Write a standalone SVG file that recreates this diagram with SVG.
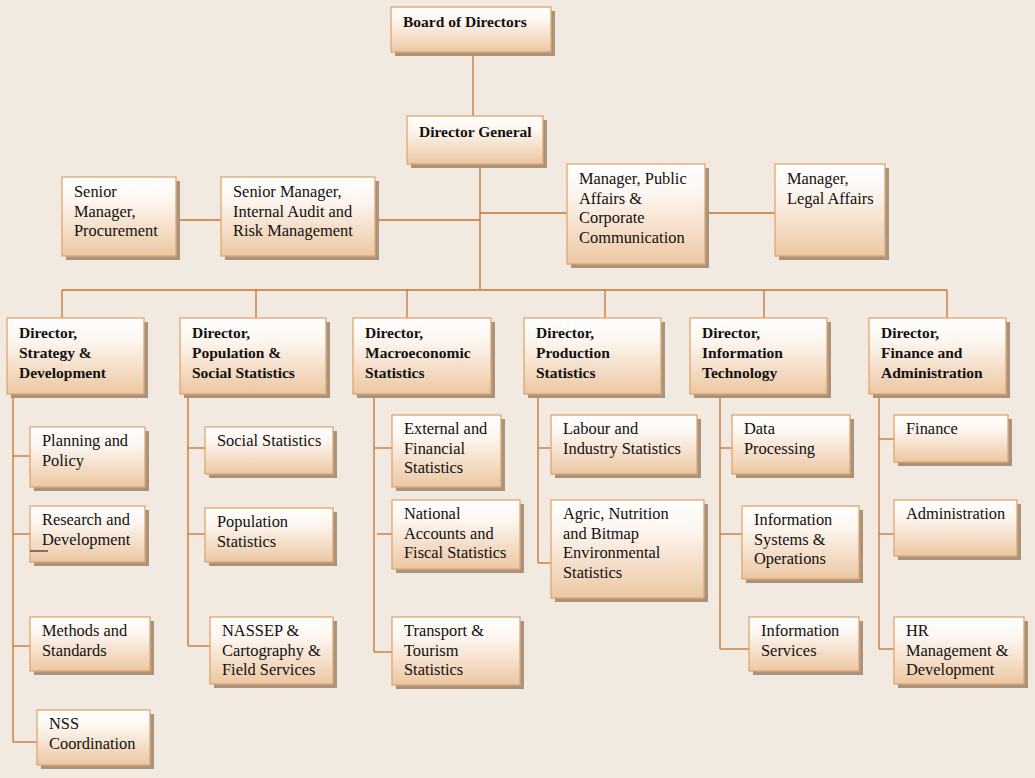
<svg xmlns="http://www.w3.org/2000/svg" width="1035" height="778" viewBox="0 0 1035 778">
<defs>
<linearGradient id="g" x1="0" y1="0" x2="0" y2="1">
<stop offset="0" stop-color="#FFFFFF"/>
<stop offset="0.3" stop-color="#FDF6F0"/>
<stop offset="1" stop-color="#ECC7A2"/>
</linearGradient>
</defs>
<style>
.bg{fill:#F2E9E1}
.sh{fill:#A8937F}
.bx{fill:url(#g);stroke:#E0A66E;stroke-width:1.3}
text{font-family:"Liberation Serif","DejaVu Serif",serif;font-size:16.4px;fill:#111}
.b{font-weight:bold;font-size:15.5px}
#connectors line{stroke:#C27532;stroke-width:1.3}
</style>
<rect class="bg" x="0" y="0" width="1035" height="778"/>
<g id="connectors">
<line x1="473" y1="52" x2="473" y2="116"/>
<line x1="480" y1="164" x2="480" y2="290"/>
<line x1="176" y1="220" x2="221" y2="220"/>
<line x1="375" y1="220" x2="480" y2="220"/>
<line x1="480" y1="213" x2="567" y2="213"/>
<line x1="705" y1="213" x2="775" y2="213"/>
<line x1="62" y1="290" x2="947" y2="290"/>
<line x1="62" y1="290" x2="62" y2="318"/>
<line x1="256" y1="290" x2="256" y2="318"/>
<line x1="407" y1="290" x2="407" y2="318"/>
<line x1="605" y1="290" x2="605" y2="318"/>
<line x1="764" y1="290" x2="764" y2="318"/>
<line x1="947" y1="290" x2="947" y2="318"/>
<line x1="13" y1="394" x2="13" y2="742"/>
<line x1="13" y1="456" x2="30" y2="456"/>
<line x1="13" y1="534" x2="30" y2="534"/>
<line x1="13" y1="646" x2="30" y2="646"/>
<line x1="13" y1="742" x2="37" y2="742"/>
<line x1="188" y1="394" x2="188" y2="646"/>
<line x1="188" y1="448" x2="205" y2="448"/>
<line x1="188" y1="534" x2="205" y2="534"/>
<line x1="188" y1="646" x2="210" y2="646"/>
<line x1="374" y1="394" x2="374" y2="652"/>
<line x1="374" y1="448" x2="392" y2="448"/>
<line x1="377" y1="534" x2="392" y2="534"/>
<line x1="374" y1="652" x2="392" y2="652"/>
<line x1="538" y1="394" x2="538" y2="563"/>
<line x1="538" y1="448" x2="551" y2="448"/>
<line x1="538" y1="563" x2="551" y2="563"/>
<line x1="720" y1="394" x2="720" y2="649"/>
<line x1="720" y1="448" x2="732" y2="448"/>
<line x1="720" y1="534" x2="742" y2="534"/>
<line x1="720" y1="649" x2="749" y2="649"/>
<line x1="879" y1="394" x2="879" y2="649"/>
<line x1="879" y1="439" x2="894" y2="439"/>
<line x1="879" y1="534" x2="894" y2="534"/>
<line x1="879" y1="649" x2="894" y2="649"/>
</g>

<g id="board"><rect class="sh" x="395" y="11" width="160" height="45"/><rect class="bx" x="391" y="7" width="160" height="45"/><text class="b" x="403" y="27">Board of Directors</text></g>
<g id="dg"><rect class="sh" x="411" y="120" width="136" height="48"/><rect class="bx" x="407" y="116" width="136" height="48"/><text class="b" x="419" y="137">Director General</text></g>

<g id="procurement"><rect class="sh" x="66" y="181" width="114" height="79"/><rect class="bx" x="62" y="177" width="114" height="79"/><text x="74" y="197">Senior</text><text x="74" y="216.5">Manager,</text><text x="74" y="236">Procurement</text></g>
<g id="audit"><rect class="sh" x="225" y="181" width="154" height="79"/><rect class="bx" x="221" y="177" width="154" height="79"/><text x="233" y="197">Senior Manager,</text><text x="233" y="216.5">Internal Audit and</text><text x="233" y="236">Risk Management</text></g>
<g id="public-affairs"><rect class="sh" x="571" y="168" width="138" height="100"/><rect class="bx" x="567" y="164" width="138" height="100"/><text x="579" y="184">Manager, Public</text><text x="579" y="203.5">Affairs &amp;</text><text x="579" y="223">Corporate</text><text x="579" y="242.5">Communication</text></g>
<g id="legal"><rect class="sh" x="779" y="168" width="110" height="92"/><rect class="bx" x="775" y="164" width="110" height="92"/><text x="787" y="184">Manager,</text><text x="787" y="203.5">Legal Affairs</text></g>

<g id="dir-strategy"><rect class="sh" x="11" y="322" width="137" height="76"/><rect class="bx" x="7" y="318" width="137" height="76"/><text class="b" x="19" y="338">Director,</text><text class="b" x="19" y="358">Strategy &amp;</text><text class="b" x="19" y="378">Development</text></g>
<g id="dir-population"><rect class="sh" x="184" y="322" width="146" height="76"/><rect class="bx" x="180" y="318" width="146" height="76"/><text class="b" x="192" y="338">Director,</text><text class="b" x="192" y="358">Population &amp;</text><text class="b" x="192" y="378">Social Statistics</text></g>
<g id="dir-macro"><rect class="sh" x="357" y="322" width="138" height="76"/><rect class="bx" x="353" y="318" width="138" height="76"/><text class="b" x="365" y="338">Director,</text><text class="b" x="365" y="358">Macroeconomic</text><text class="b" x="365" y="378">Statistics</text></g>
<g id="dir-production"><rect class="sh" x="528" y="322" width="137" height="76"/><rect class="bx" x="524" y="318" width="137" height="76"/><text class="b" x="536" y="338">Director,</text><text class="b" x="536" y="358">Production</text><text class="b" x="536" y="378">Statistics</text></g>
<g id="dir-it"><rect class="sh" x="694" y="322" width="137" height="76"/><rect class="bx" x="690" y="318" width="137" height="76"/><text class="b" x="702" y="338">Director,</text><text class="b" x="702" y="358">Information</text><text class="b" x="702" y="378">Technology</text></g>
<g id="dir-finance"><rect class="sh" x="873" y="322" width="137" height="76"/><rect class="bx" x="869" y="318" width="137" height="76"/><text class="b" x="881" y="338">Director,</text><text class="b" x="881" y="358">Finance and</text><text class="b" x="881" y="378">Administration</text></g>

<g id="planning"><rect class="sh" x="34" y="431" width="115" height="60"/><rect class="bx" x="30" y="427" width="115" height="60"/><text x="42" y="446">Planning and</text><text x="42" y="465.5">Policy</text></g>
<g id="research"><rect class="sh" x="34" y="510" width="115" height="56"/><rect class="bx" x="30" y="506" width="115" height="56"/><text x="42" y="525">Research and</text><text x="42" y="544.5">Development</text><line x1="30" y1="551" x2="48" y2="551" stroke="#111" stroke-width="1"/></g>
<g id="methods"><rect class="sh" x="34" y="621" width="120" height="54"/><rect class="bx" x="30" y="617" width="120" height="54"/><text x="42" y="636">Methods and</text><text x="42" y="655.5">Standards</text></g>
<g id="nss"><rect class="sh" x="41" y="714" width="113" height="55"/><rect class="bx" x="37" y="710" width="113" height="55"/><text x="49" y="729">NSS</text><text x="49" y="748.5">Coordination</text></g>

<g id="social"><rect class="sh" x="209" y="431" width="128" height="47"/><rect class="bx" x="205" y="427" width="128" height="47"/><text x="217" y="446">Social Statistics</text></g>
<g id="popstats"><rect class="sh" x="209" y="512" width="128" height="54"/><rect class="bx" x="205" y="508" width="128" height="54"/><text x="217" y="527">Population</text><text x="217" y="546.5">Statistics</text></g>
<g id="nassep"><rect class="sh" x="214" y="621" width="123" height="67"/><rect class="bx" x="210" y="617" width="123" height="67"/><text x="222" y="636">NASSEP &amp;</text><text x="222" y="655.5">Cartography &amp;</text><text x="222" y="675">Field Services</text></g>

<g id="external"><rect class="sh" x="396" y="419" width="109" height="72"/><rect class="bx" x="392" y="415" width="109" height="72"/><text x="404" y="434">External and</text><text x="404" y="453.5">Financial</text><text x="404" y="473">Statistics</text></g>
<g id="national"><rect class="sh" x="396" y="504" width="128" height="69"/><rect class="bx" x="392" y="500" width="128" height="69"/><text x="404" y="519">National</text><text x="404" y="538.5">Accounts and</text><text x="404" y="558">Fiscal Statistics</text></g>
<g id="transport"><rect class="sh" x="396" y="621" width="128" height="68"/><rect class="bx" x="392" y="617" width="128" height="68"/><text x="404" y="636">Transport &amp;</text><text x="404" y="655.5">Tourism</text><text x="404" y="675">Statistics</text></g>

<g id="labour"><rect class="sh" x="555" y="419" width="146" height="59"/><rect class="bx" x="551" y="415" width="146" height="59"/><text x="563" y="434">Labour and</text><text x="563" y="453.5">Industry Statistics</text></g>
<g id="agric"><rect class="sh" x="555" y="504" width="153" height="98"/><rect class="bx" x="551" y="500" width="153" height="98"/><text x="563" y="519">Agric, Nutrition</text><text x="563" y="538.5">and Bitmap</text><text x="563" y="558">Environmental</text><text x="563" y="577.5">Statistics</text></g>

<g id="dataproc"><rect class="sh" x="736" y="419" width="118" height="59"/><rect class="bx" x="732" y="415" width="118" height="59"/><text x="744" y="434">Data</text><text x="744" y="453.5">Processing</text></g>
<g id="infosys"><rect class="sh" x="746" y="510" width="117" height="73"/><rect class="bx" x="742" y="506" width="117" height="73"/><text x="754" y="525">Information</text><text x="754" y="544.5">Systems &amp;</text><text x="754" y="564">Operations</text></g>
<g id="infoserv"><rect class="sh" x="753" y="621" width="110" height="54"/><rect class="bx" x="749" y="617" width="110" height="54"/><text x="761" y="636">Information</text><text x="761" y="655.5">Services</text></g>

<g id="finance"><rect class="sh" x="898" y="419" width="114" height="47"/><rect class="bx" x="894" y="415" width="114" height="47"/><text x="906" y="434">Finance</text></g>
<g id="admin"><rect class="sh" x="898" y="504" width="123" height="56"/><rect class="bx" x="894" y="500" width="123" height="56"/><text x="906" y="519">Administration</text></g>
<g id="hr"><rect class="sh" x="898" y="621" width="130" height="67"/><rect class="bx" x="894" y="617" width="130" height="67"/><text x="906" y="636">HR</text><text x="906" y="655.5">Management &amp;</text><text x="906" y="675">Development</text></g>
</svg>
